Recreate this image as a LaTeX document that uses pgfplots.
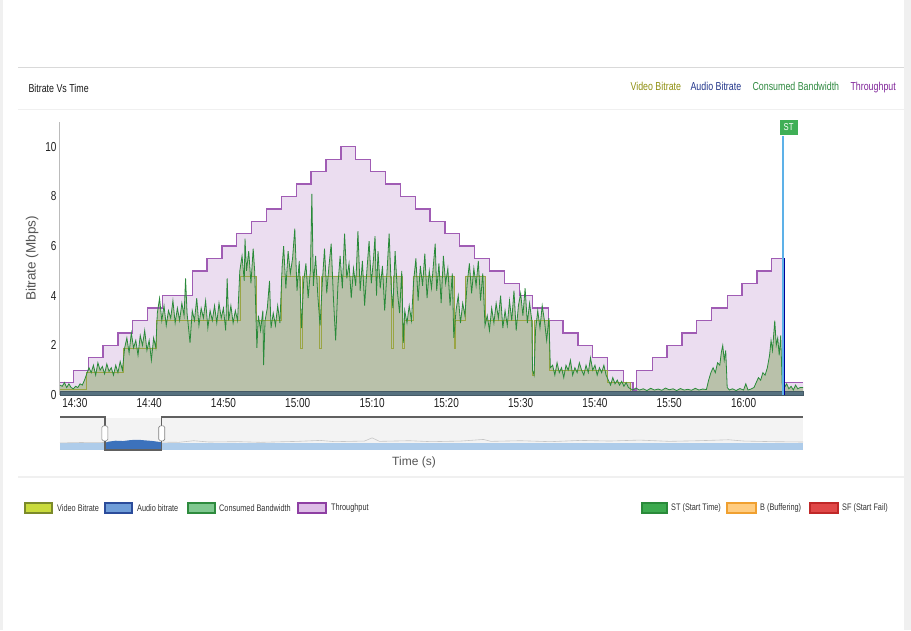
\documentclass[border=0pt]{standalone}
\usepackage{fontspec}
\setmainfont{Liberation Sans}[FakeStretch=0.77]
\newfontfamily\plainfont{Liberation Sans}
\usepackage{pgfplots}
\usepackage{pgfplotstable}
\pgfplotsset{compat=1.18}

\definecolor{lav}{HTML}{EBDDF0}
\definecolor{purp}{HTML}{A05CB4}
\definecolor{gfill}{HTML}{B9C1AA}
\definecolor{gline}{HTML}{2A8A3A}
\definecolor{olive}{HTML}{9AA545}
\definecolor{audio}{HTML}{56717F}
\definecolor{stline}{HTML}{5DB1E8}
\definecolor{stbox}{HTML}{3FAF56}
\definecolor{axisgray}{HTML}{BBBBBB}
\definecolor{tickgray}{HTML}{222222}
\definecolor{labelgray}{HTML}{555555}
\definecolor{navbg}{HTML}{F3F3F3}
\definecolor{navlight}{HTML}{AECCEA}
\definecolor{navdark}{HTML}{3C72BC}
\definecolor{outline}{HTML}{606060}
\definecolor{legV}{HTML}{8F8F10}
\definecolor{legA}{HTML}{22368C}
\definecolor{legC}{HTML}{2F8A40}
\definecolor{legT}{HTML}{80259A}
\definecolor{bVf}{HTML}{C9DB3C}\definecolor{bVd}{HTML}{7B8A2A}
\definecolor{bAf}{HTML}{6F9DD8}\definecolor{bAd}{HTML}{2B4C9B}
\definecolor{bCf}{HTML}{80C890}\definecolor{bCd}{HTML}{2E8B3E}
\definecolor{bTf}{HTML}{DDBDE6}\definecolor{bTd}{HTML}{8E3FA3}
\definecolor{bSf}{HTML}{3DAA4F}\definecolor{bSd}{HTML}{2A8A3A}
\definecolor{bBf}{HTML}{FFCC80}\definecolor{bBd}{HTML}{F0A030}
\definecolor{bFf}{HTML}{E04848}\definecolor{bFd}{HTML}{C02828}
\definecolor{legtext}{HTML}{333333}

\pgfplotstableread{
t v
-2 0.5
-0.2 1.0
1.8 1.5
3.8 2.0
5.8 2.5
7.8 3.0
9.8 3.5
11.8 4.0
15.8 5.0
17.8 5.5
19.8 6.0
21.8 6.5
23.8 7.0
25.8 7.5
27.8 8.0
29.8 8.5
31.8 9.0
33.8 9.5
35.8 10.0
37.8 9.5
39.8 9.0
41.8 8.5
43.8 8.0
45.8 7.5
47.8 7.0
49.8 6.5
51.8 6.0
53.8 5.5
55.8 5.0
57.8 4.5
59.8 4.0
61.6 3.5
63.7 3.0
65.7 2.5
67.7 2.0
69.7 1.5
71.7 1.0
73.8 0.5
75.1 0.2
75.6 1.0
77.7 1.5
79.7 2.0
81.7 2.5
83.7 3.0
85.7 3.5
87.8 4.0
89.8 4.5
91.8 5.0
93.8 5.5
95.3 0.5
98 0.5
}\throughput

\pgfplotstableread{
t v
-2 0.25
1.6 0.9
6.5 1.9
11.0 3.0
22.2 4.8
24.4 3.0
27.8 4.8
30.4 1.9
30.6 4.8
32.9 1.9
33.1 4.8
42.6 1.9
42.8 4.8
44.1 1.9
44.3 3.0
45.5 4.8
51.0 1.9
51.2 3.0
52.6 4.8
55.2 3.0
61.6 0.8
61.8 3.0
63.9 1.0
71.7 0.5
74.8 0.15
98 0.15
}\video

\pgfplotstableread{
t v
-2.0 0.40
-1.7 0.35
-1.4 0.50
-1.1 0.30
-0.8 0.45
-0.5 0.30
-0.2 0.25
0.1 0.35
0.4 0.30
0.7 0.45
1.0 0.40
1.3 0.60
1.6 0.85
1.9 1.1
2.2 0.9
2.5 1.2
2.8 0.8
3.1 1.3
3.4 1.0
3.7 1.15
4.0 0.85
4.3 1.25
4.6 0.95
4.9 1.1
5.2 0.8
5.5 1.2
5.8 0.9
6.1 1.35
6.4 1.0
6.7 1.9
7.0 2.3
7.3 1.7
7.6 2.5
7.9 1.9
8.2 2.2
8.5 1.6
8.8 2.4
9.1 2.0
9.4 2.6
9.7 1.8
10.0 2.2
10.3 1.4
10.6 2.3
10.9 1.9
11.1 3.3
11.4 3.9
11.7 3.0
12.0 3.6
12.3 2.8
12.6 3.4
12.9 3.1
13.2 3.8
13.5 2.9
13.8 3.5
14.1 3.0
14.4 3.7
14.7 3.2
14.9 4.7
15.1 3.3
15.5 2.1
15.8 3.4
16.1 3.0
16.4 3.9
16.7 2.8
17.0 3.5
17.3 3.1
17.6 3.8
17.9 2.7
18.2 3.4
18.5 3.0
18.8 3.6
19.1 2.9
19.4 3.7
19.7 3.1
20.0 3.5
20.3 2.6
20.5 4.7
20.7 3.0
21.0 3.6
21.3 2.9
21.6 3.4
21.9 3.0
22.2 5.0
22.5 5.6
22.8 4.6
22.9 6.3
23.1 5.0
23.4 5.8
23.7 4.5
24.0 5.9
24.2 5.0
24.5 1.9
24.7 3.2
25.0 2.6
25.3 3.4
25.4 1.2
25.6 3.0
25.9 3.5
26.2 4.6
26.4 2.7
26.7 3.3
27.0 2.8
27.3 3.6
27.6 2.9
27.9 5.2
28.1 6.0
28.4 4.3
28.7 5.8
29.0 4.9
29.3 5.5
29.6 6.7
29.9 4.2
30.2 5.4
30.5 2.7
30.8 4.6
31.1 5.3
31.4 3.9
31.7 5.0
31.9 8.1
32.1 4.4
32.4 5.6
32.7 4.0
33.0 2.8
33.3 4.5
33.6 5.9
33.9 4.1
34.2 5.2
34.5 6.1
34.8 3.9
35.1 2.2
35.4 4.4
35.7 5.6
36.0 4.3
36.3 6.5
36.6 4.7
36.9 5.3
37.2 3.9
37.5 5.1
37.8 4.4
38.1 6.6
38.4 4.2
38.7 5.4
39.0 3.6
39.3 5.0
39.6 6.2
39.9 4.5
40.2 5.5
40.4 6.4
40.6 4.0
40.8 5.8
41.1 4.3
41.4 5.2
41.7 3.4
42.0 4.9
42.3 6.5
42.6 4.2
42.8 3.5
43.1 5.8
43.4 4.2
43.7 3.3
44.0 5.0
44.2 2.1
44.4 3.4
44.7 2.9
45.0 3.6
45.3 3.0
45.6 4.6
45.9 5.5
46.2 3.8
46.5 5.2
46.8 4.4
47.1 5.7
47.4 3.9
47.7 5.0
48.0 4.3
48.3 5.4
48.5 6.1
48.7 4.2
49.0 5.3
49.3 3.7
49.6 5.6
49.9 4.5
50.2 5.1
50.5 3.6
50.8 4.9
51.0 2.3
51.3 3.4
51.6 4.0
51.9 2.9
52.2 3.7
52.5 3.2
52.8 4.5
53.1 5.3
53.4 4.1
53.7 5.1
54.0 4.4
54.3 5.4
54.6 3.8
54.9 4.9
55.2 2.8
55.5 3.2
55.8 2.6
56.1 3.5
56.4 2.9
56.7 3.7
57.0 3.1
57.3 4.0
57.6 2.7
57.9 3.4
58.2 2.8
58.5 3.8
58.8 3.0
59.1 4.2
59.4 2.6
59.7 3.6
60.0 4.1
60.3 3.2
60.6 4.3
60.9 2.9
61.2 3.7
61.5 3.0
61.6 1.0
61.8 0.8
62.0 2.6
62.3 3.4
62.6 2.7
62.9 3.6
63.2 3.0
63.5 2.2
63.8 3.1
64.0 1.1
64.3 1.2
64.6 0.8
64.9 1.3
65.2 0.9
65.5 1.1
65.8 0.7
66.1 1.2
66.4 1.0
66.7 1.4
67.0 0.8
67.3 1.1
67.6 0.9
67.9 1.3
68.2 1.0
68.5 0.8
68.8 1.2
69.1 0.9
69.4 1.5
69.7 1.0
70.0 1.2
70.3 0.8
70.6 1.1
70.9 0.9
71.2 1.2
71.5 0.8
71.8 0.6
72.1 0.4
72.4 0.7
72.7 0.45
73.0 0.6
73.3 0.4
73.6 0.55
73.9 0.35
74.2 0.5
74.5 0.3
74.8 0.25
75.1 0.2
75.5 0.28
76.0 0.2
76.5 0.25
77.0 0.18
77.5 0.27
78.0 0.2
78.5 0.24
79.0 0.19
79.5 0.28
80.0 0.21
80.5 0.25
81.0 0.18
81.5 0.26
82.0 0.2
82.5 0.23
83.0 0.19
83.5 0.27
84.0 0.2
84.5 0.24
85.0 0.22
85.3 0.6
85.6 0.9
85.9 1.1
86.2 0.9
86.5 1.3
86.8 1.2
87.0 1.7
87.2 2.0
87.4 1.4
87.6 1.8
87.8 0.3
88.1 0.2
88.5 0.25
89.0 0.18
89.5 0.26
90.0 0.2
90.3 0.45
90.6 0.2
91.0 0.24
91.4 0.3
91.7 0.5
92.0 0.7
92.3 0.6
92.6 0.9
92.9 0.8
93.2 1.1
93.5 1.6
93.7 2.2
93.9 1.8
94.1 2.6
94.2 3.0
94.4 2.0
94.6 2.3
94.8 1.6
95.0 2.4
95.2 0.4
95.5 0.3
95.8 0.45
96.1 0.25
96.4 0.35
96.7 0.2
97.0 0.4
97.3 0.25
97.6 0.3
98.0 0.3
}\consumed

\pgfplotstableread{
t v
-2 2.2
2 2.4
6 2.3
10 2.5
14 2.4
16 2.9
18 2.5
22 2.6
25 2.4
30 2.7
33 3.0
35 2.6
39 2.8
40 3.8
41 2.7
45 2.9
48 2.6
52 2.8
55 3.3
56 2.7
60 2.9
64 2.6
68 3.0
72 2.8
76 3.1
80 2.7
84 2.9
88 3.2
90 2.8
94 2.6
98 2.5
}\navgray

\pgfplotstableread{
t v
4.04 2.2
4.5 2.6
5.5 2.9
6.5 2.8
7.5 3.1
8.5 3.2
9.5 3.0
10.5 2.8
11.7 2.4
}\navsel

\begin{document}
\begin{tikzpicture}[x=1pt,y=1pt]
\useasboundingbox (0,0) rectangle (911,630);
\fill[white] (0,0) rectangle (911,630);
\fill[gray!12] (0,0) rectangle (3,630);
\fill[gray!12] (904,0) rectangle (911,630);
\draw[color=gray!30, line width=1] (18,562) -- (904,562);
\draw[gray!12, line width=1] (18,520) -- (904,520);
\draw[gray!12, line width=2] (18,153) -- (904,153);

\node[anchor=base west, font=\fontsize{11.5}{13}\selectfont, text=black!90] at (25,537) {Bitrate Vs Time};
\node[anchor=base west, font=\fontsize{11.5}{13}\selectfont, text=legV] at (627,539) {Video Bitrate};
\node[anchor=base west, font=\fontsize{11.5}{13}\selectfont, text=legA] at (687,539) {Audio Bitrate};
\node[anchor=base west, font=\fontsize{11.5}{13}\selectfont, text=legC] at (749,539) {Consumed Bandwidth};
\node[anchor=base west, font=\fontsize{11.5}{13}\selectfont, text=legT] at (847,539) {Throughput};

\begin{axis}[
  at={(60pt,235pt)}, anchor=south west, scale only axis,
  width=743pt, height=273pt,
  xmin=-2, xmax=98, ymin=0, ymax=11,
  axis x line*=bottom, axis y line*=left,
  axis line style={-},
  x axis line style={draw=none},
  y axis line style={draw=axisgray, line width=1},
  xtick={0,10,...,90},
  xticklabels={14:30,14:40,14:50,15:00,15:10,15:20,15:30,15:40,15:50,16:00},
  ytick={0,2,...,10},
  tick style={draw=none},
  tick label style={font=\fontsize{13}{14}\selectfont, text=tickgray},
  /pgf/number format/assume math mode=true,
  ylabel={Bitrate (Mbps)},
  ylabel style={font=\plainfont\fontsize{13.5}{15}\selectfont, text=labelgray},
  clip=false,
]
\addplot[const plot, fill=lav, draw=none] table {\throughput} \closedcycle;
\addplot[const plot, fill=gfill, draw=none] table {\video} \closedcycle;
\addplot[fill=gfill, draw=none] table {\consumed} \closedcycle;
\addplot[const plot, draw=purp, line width=1.3] table {\throughput};
\addplot[const plot, draw=olive, line width=0.55] table {\video};
\addplot[draw=gline, line width=0.8] table {\consumed};
\addplot[fill=audio, draw=audio!80!black, line width=0.5] coordinates {(-2,0.16) (98,0.16)} \closedcycle;
\addplot[draw=stline, line width=1.3] coordinates {(95.3,0) (95.3,10.45)}
  node[pos=1, anchor=south west, xshift=-4pt, fill=stbox, text=white, inner sep=1pt, minimum width=18pt, minimum height=15pt, font=\fontsize{10}{11}\selectfont] {ST};
\addplot[draw=blue!60!black, line width=1] coordinates {(95.45,0) (95.45,5.5)};
\end{axis}

\begin{axis}[
  at={(60pt,180pt)}, anchor=south west, scale only axis,
  width=743pt, height=32pt,
  xmin=-2, xmax=98, ymin=0, ymax=10,
  hide axis, clip=false,
]
\fill[navbg] (rel axis cs:0,0) rectangle (rel axis cs:1,1);
\addplot[fill=navlight, draw=none] coordinates {(-2,2.1) (98,2.1)} \closedcycle;
\addplot[draw=gray!45, line width=0.6] table {\navgray};
\addplot[fill=navdark, draw=none] table {\navsel} \closedcycle;
\addplot[draw=outline, line width=1.3] coordinates {(-2,10.3) (4.04,10.3) (4.04,0) (11.7,0) (11.7,10.3) (98,10.3)};
\node[draw=gray, fill=white, rounded corners=1.5pt, minimum width=6pt, minimum height=15pt, inner sep=0pt, line width=0.6] at (axis cs:4.04,5.2) {};
\node[draw=gray, fill=white, rounded corners=1.5pt, minimum width=6pt, minimum height=15pt, inner sep=0pt, line width=0.6] at (axis cs:11.7,5.2) {};
\end{axis}

\node[font=\plainfont\fontsize{12}{14}\selectfont, text=labelgray] at (414,168) {Time (s)};

% bottom legend
\begin{scope}[line width=1.4]
\draw[fill=bVf, draw=bVd] (25,117) rectangle (52,127);
\draw[fill=bAf, draw=bAd] (105,117) rectangle (132,127);
\draw[fill=bCf, draw=bCd] (188,117) rectangle (215,127);
\draw[fill=bTf, draw=bTd] (298,117) rectangle (326,127);
\draw[fill=bSf, draw=bSd] (642,117) rectangle (667,127);
\draw[fill=bBf, draw=bBd] (727,117) rectangle (756,127);
\draw[fill=bFf, draw=bFd] (810,117) rectangle (838,127);
\end{scope}
\begin{scope}[every node/.style={anchor=west, font=\fontsize{9.5}{11}\selectfont, text=legtext, inner sep=0pt}]
\node at (57,122) {Video Bitrate};
\node at (137,122) {Audio bitrate};
\node at (219,122) {Consumed Bandwidth};
\node at (331,122) {Throughput};
\node at (671,122) {ST (Start Time)};
\node at (760,122) {B (Buffering)};
\node at (842,122) {SF (Start Fail)};
\end{scope}
\end{tikzpicture}
\end{document}
